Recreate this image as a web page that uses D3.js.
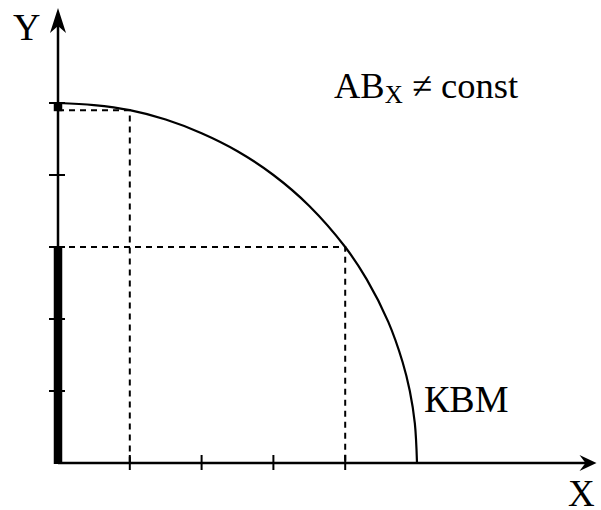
<!DOCTYPE html>
<html>
<head>
<meta charset="utf-8">
<script src="https://cdn.jsdelivr.net/npm/d3@7/dist/d3.min.js"></script>
<style>
  body { margin: 0; background: #fff; }
  svg { display: block; }
  text { font-family: "Liberation Serif", "Times New Roman", serif; fill: #000; }
</style>
</head>
<body>
<svg id="chart" width="601" height="510"></svg>
<script>
// production possibility curve (КВМ)
const curveX = [0, 0.5, 1, 1.5, 2, 2.5, 3, 3.5, 4, 4.3, 4.6, 4.8, 4.9, 4.97, 5];
const curveY = [5, 4.97, 4.9, 4.77, 4.58, 4.33, 4, 3.57, 3, 2.55, 1.96, 1.4, 1.0, 0.55, 0];

// dashed guide points on the curve
const guideX = [1, 4];
const guideY = [4.9, 3];

// thick marks on the Y axis [from, to]
const thickY = [[0, 3], [4.9, 5]];

const xTicks = [1, 2, 3, 4];
const yTicks = [1, 2, 3, 4, 5];

const xAxisEnd = 7.5;
const yAxisEnd = 6.32;

const svg = d3.select("#chart");

const x = d3.scaleLinear().domain([0, 5]).range([58, 417]);
const y = d3.scaleLinear().domain([0, 5]).range([463, 103]);

const g = svg.append("g");

// dashed guides
guideX.forEach((gx, i) => {
  const gy = guideY[i];
  g.append("path")
    .attr("d", `M${x(0)},${y(gy)}H${x(gx)}V${y(0)}`)
    .attr("fill", "none")
    .attr("stroke", "#000")
    .attr("stroke-width", 2)
    .attr("stroke-dasharray", "6,5");
});

// curve
const pts = curveX.map((v, i) => [v, curveY[i]]);
const line = d3.line()
  .x((d) => x(d[0]))
  .y((d) => y(d[1]))
  .curve(d3.curveCatmullRom.alpha(0.5));

g.append("path")
  .datum(pts)
  .attr("d", line)
  .attr("fill", "none")
  .attr("stroke", "#000")
  .attr("stroke-width", 2.2);

// axes
g.append("line")
  .attr("x1", x(0)).attr("y1", y(0))
  .attr("x2", x(xAxisEnd) - 6).attr("y2", y(0))
  .attr("stroke", "#000").attr("stroke-width", 2.5);
g.append("line")
  .attr("x1", x(0)).attr("y1", y(0) + 1)
  .attr("x2", x(0)).attr("y2", y(yAxisEnd) + 6)
  .attr("stroke", "#000").attr("stroke-width", 2.5);

// arrowheads
const xt = x(xAxisEnd), yt = y(0);
g.append("path")
  .attr("d", `M${xt},${yt}L${xt - 17},${yt - 8}L${xt - 11},${yt}L${xt - 17},${yt + 8}Z`)
  .attr("fill", "#000");
const ax = x(0), ay = y(yAxisEnd);
g.append("path")
  .attr("d", `M${ax},${ay}L${ax - 8},${ay + 25}L${ax},${ay + 18}L${ax + 8},${ay + 25}Z`)
  .attr("fill", "#000");

// thick segments on Y axis
g.selectAll("line.thick")
  .data(thickY)
  .join("line")
  .attr("class", "thick")
  .attr("x1", x(0)).attr("x2", x(0))
  .attr("y1", (d) => y(d[0]) + 1)
  .attr("y2", (d) => y(d[1]))
  .attr("stroke", "#000")
  .attr("stroke-width", 8.5);

// ticks
g.selectAll("line.xtick")
  .data(xTicks)
  .join("line")
  .attr("class", "xtick")
  .attr("x1", (d) => x(d)).attr("x2", (d) => x(d))
  .attr("y1", y(0) - 8).attr("y2", y(0) + 7)
  .attr("stroke", "#000").attr("stroke-width", 2);

g.selectAll("line.ytick")
  .data(yTicks)
  .join("line")
  .attr("class", "ytick")
  .attr("x1", x(0) - 9).attr("x2", x(0) + 7)
  .attr("y1", (d) => y(d)).attr("y2", (d) => y(d))
  .attr("stroke", "#000").attr("stroke-width", 2);

// labels
svg.append("text").attr("x", 13).attr("y", 40).attr("font-size", 38).text("Y");
svg.append("text").attr("x", 568).attr("y", 506).attr("font-size", 37).text("X");
svg.append("text").attr("x", 424).attr("y", 412).attr("font-size", 38).text("КВМ");

const note = svg.append("text").attr("x", 334).attr("y", 98).attr("font-size", 36.5);
note.append("tspan").text("АВ");
note.append("tspan").attr("font-size", 25).attr("dy", 5).text("X");
note.append("tspan").attr("dy", -5).text(" ≠ const");
</script>
</body>
</html>
